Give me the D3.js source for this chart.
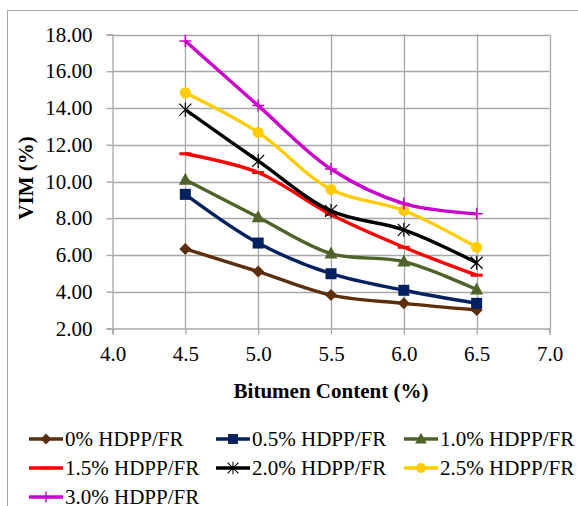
<!DOCTYPE html>
<html>
<head>
<meta charset="utf-8">
<script src="https://cdn.jsdelivr.net/npm/d3@7"></script>
</head>
<body style="margin:0; background:#fff">
<svg id="chart" width="578" height="506" style="display:block"></svg>
<script>
// Bitumen content (%) on the x axis
const bitumen = [4.5, 5.0, 5.5, 6.0, 6.5];

// VIM (%) for each HDPP/FR dosage
const vim0   = [6.33, 5.10, 3.82, 3.37, 3.01];
const vim05  = [9.30, 6.65, 4.98, 4.08, 3.37];
const vim10  = [10.09, 8.06, 6.08, 5.64, 4.12];
const vim15  = [11.51, 10.49, 8.20, 6.42, 4.90];
const vim20  = [13.91, 11.12, 8.40, 7.37, 5.58];
const vim25  = [14.83, 12.67, 9.57, 8.42, 6.42];
const vim30  = [17.65, 14.13, 10.68, 8.80, 8.24];

const seriesNames = ["0% HDPP/FR", "0.5% HDPP/FR", "1.0% HDPP/FR", "1.5% HDPP/FR",
                     "2.0% HDPP/FR", "2.5% HDPP/FR", "3.0% HDPP/FR"];
const seriesValues = [vim0, vim05, vim10, vim15, vim20, vim25, vim30];
const seriesColors = ["#5c2e0b", "#002060", "#4f6228", "#ff0000", "#000000", "#ffcc00", "#cc00cc"];
const seriesMarkers = ["diamond", "square", "triangle", "dash", "star", "circle", "plus"];

const xTicks = [4.0, 4.5, 5.0, 5.5, 6.0, 6.5, 7.0];
const yTicks = [2, 4, 6, 8, 10, 12, 14, 16, 18];

const gridColor = "#a6a6a6";
const serifFamily = "Times New Roman, Liberation Serif, Tinos, serif";

const svg = d3.select("#chart");

const x = d3.scaleLinear().domain([4.0, 7.0]).range([112.5, 549.5]);
const y = d3.scaleLinear().domain([2, 18]).range([328.5, 34.5]);

// outer chart frame
svg.append("rect")
  .attr("x", 7.5).attr("y", 10.5).attr("width", 600).attr("height", 520)
  .attr("fill", "none").attr("stroke", gridColor).attr("stroke-width", 1);

// gridlines
const grid = svg.append("g");
grid.selectAll("line.h").data(yTicks.slice(1)).join("line")
  .attr("x1", x(4.0)).attr("x2", x(7.0))
  .attr("y1", d => Math.round(y(d)) + 0.5).attr("y2", d => Math.round(y(d)) + 0.5)
  .attr("stroke", gridColor).attr("stroke-width", 1.3);
grid.selectAll("line.v").data(xTicks.slice(1)).join("line")
  .attr("y1", y(18)).attr("y2", y(2))
  .attr("x1", d => Math.round(x(d)) + 0.5).attr("x2", d => Math.round(x(d)) + 0.5)
  .attr("stroke", gridColor).attr("stroke-width", 1.3);

// axes with serif labels
const gy = svg.append("g").attr("transform", `translate(${x(4.0)},0)`)
  .call(d3.axisLeft(y).tickValues(yTicks).tickFormat(d3.format(".2f")).tickSize(6).tickPadding(14));
const gx = svg.append("g").attr("transform", `translate(0,${y(2)})`)
  .call(d3.axisBottom(x).tickValues(xTicks).tickFormat(d3.format(".1f")).tickSize(6).tickPadding(12));
[gx, gy].forEach(g => {
  g.attr("font-family", serifFamily).attr("font-size", 21);
  g.selectAll("text").attr("font-family", serifFamily).attr("font-size", 21).attr("fill", "#000");
  g.select(".domain").attr("stroke", gridColor).attr("stroke-width", 1.3);
  g.selectAll(".tick line").attr("stroke", gridColor).attr("stroke-width", 1.3);
});

// axis titles
svg.append("text").attr("x", x(5.5)).attr("y", 398)
  .attr("font-family", serifFamily).attr("font-size", 21).attr("font-weight", "bold")
  .attr("text-anchor", "middle")
  .text("Bitumen Content (%)");
svg.append("text").attr("transform", "translate(33,178) rotate(-90)")
  .attr("font-family", serifFamily).attr("font-size", 21).attr("font-weight", "bold")
  .attr("text-anchor", "middle")
  .text("VIM (%)");

// marker shapes
function drawMarker(g, type, color, cx, cy, k = 1) {
  const s = g.append("g").attr("transform", `translate(${cx},${cy}) scale(${k})`);
  if (type === "diamond") {
    s.append("path").attr("d", "M0,-6L6,0L0,6L-6,0Z").attr("fill", color);
  } else if (type === "square") {
    s.append("rect").attr("x", -5.5).attr("y", -5.5).attr("width", 11).attr("height", 11).attr("fill", color);
  } else if (type === "triangle") {
    s.append("path").attr("d", "M0,-7L6.5,5L-6.5,5Z").attr("fill", color);
  } else if (type === "circle") {
    s.append("circle").attr("r", 5.5).attr("fill", color);
  } else if (type === "dash") {
    s.append("line").attr("x1", -6).attr("x2", 6).attr("stroke", color).attr("stroke-width", 3);
  } else if (type === "star") {
    s.append("path").attr("d", "M-6,-6L6,6M-6,6L6,-6M0,-7L0,7")
      .attr("stroke", color).attr("stroke-width", 1.2).attr("fill", "none");
  } else if (type === "plus") {
    s.append("path").attr("d", "M-6,0L6,0M0,-6L0,6")
      .attr("stroke", color).attr("stroke-width", 1.5).attr("fill", "none");
  }
}

// series lines and markers
const smooth = d3.line()
  .x(d => x(d[0])).y(d => y(d[1]))
  .curve(d3.curveCatmullRom.alpha(0.5));

seriesValues.forEach((vals, i) => {
  const pts = bitumen.map((b, j) => [b, vals[j]]);
  const g = svg.append("g");
  g.append("path").datum(pts)
    .attr("d", smooth).attr("fill", "none")
    .attr("stroke", seriesColors[i]).attr("stroke-width", 3.4)
    .attr("stroke-linejoin", "round");
  pts.forEach(p => drawMarker(g, seriesMarkers[i], seriesColors[i], x(p[0]), y(p[1])));
});

// legend: swatch line + marker + label
const legCols = [29, 216, 404];
const legRows = [439, 468, 497];
seriesNames.forEach((name, i) => {
  const lx = legCols[i % 3];
  const ly = legRows[Math.floor(i / 3)];
  const g = svg.append("g");
  g.append("line").attr("x1", lx).attr("x2", lx + 34).attr("y1", ly).attr("y2", ly)
    .attr("stroke", seriesColors[i]).attr("stroke-width", 3.4);
  drawMarker(g, seriesMarkers[i], seriesColors[i], lx + 17, ly, 0.9);
  g.append("text")
    .attr("x", lx + 36).attr("y", ly + 7)
    .attr("font-family", serifFamily).attr("font-size", 21)
    .text(name);
});
</script>
</body>
</html>
